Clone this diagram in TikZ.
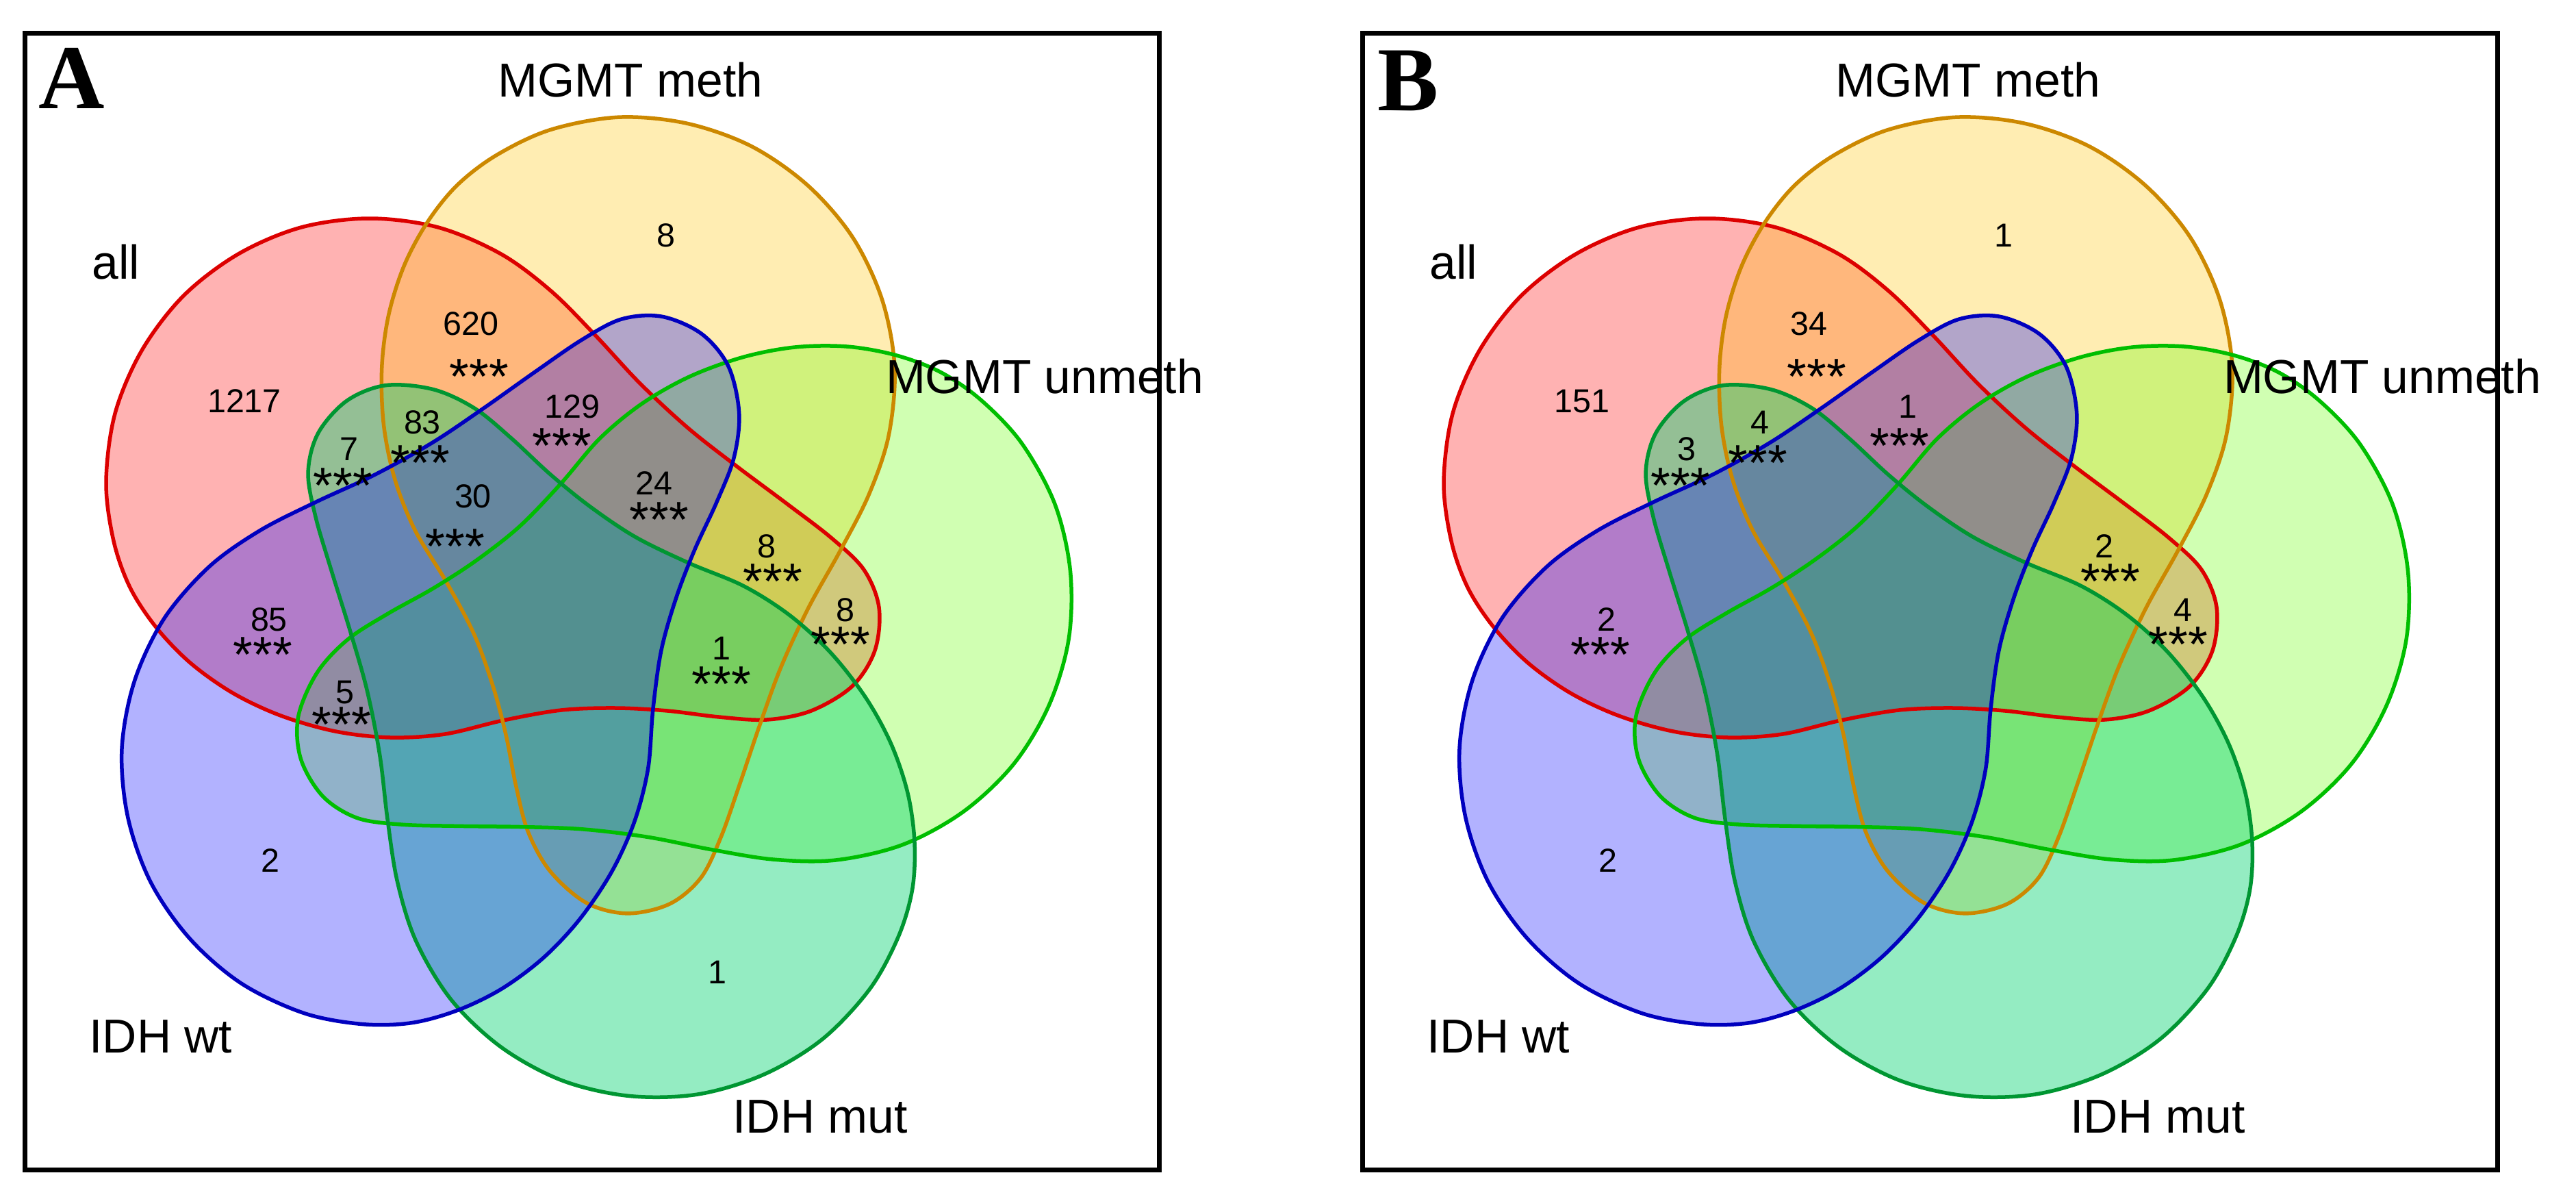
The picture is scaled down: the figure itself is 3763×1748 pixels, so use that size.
\documentclass[tikz,border=0pt]{standalone}
\usepackage{fontspec}
\setmainfont{Liberation Sans}
\newfontfamily\letterfont{Liberation Serif}
\definecolor{fred}{RGB}{255,0,0}
\definecolor{fgold}{RGB}{255,195,0}
\definecolor{flg}{RGB}{100,255,0}
\definecolor{fdg}{RGB}{0,210,110}
\definecolor{fblue}{RGB}{0,0,255}
\definecolor{lred}{RGB}{220,0,0}
\definecolor{lgold}{RGB}{204,136,0}
\definecolor{llg}{RGB}{0,190,0}
\definecolor{ldg}{RGB}{0,150,50}
\definecolor{lblue}{RGB}{0,0,190}
\newcommand\vennShape[2]{\path[#1, rotate around={#2:(833,893)}] plot[smooth cycle,tension=0.55] coordinates {(540,319) (640,332) (732,371) (805,425) (870,490) (935,560) (1005,625) (1075,680) (1150,736) (1215,786) (1262,832) (1284,887) (1278,950) (1245,1002) (1185,1038) (1120,1051) (1050,1047) (975,1038) (900,1034) (820,1037) (735,1052) (650,1072) (570,1077) (490,1068) (410,1045) (340,1012) (278,968) (228,916) (190,858) (166,790) (155,704) (168,604) (207,512) (268,432) (348,371) (440,332)};}
\newcommand\vennPanel{%
  \vennShape{fill=fred, fill opacity=0.3}{0}
  \vennShape{fill=fgold, fill opacity=0.3}{-72}
  \vennShape{fill=flg, fill opacity=0.3}{-144}
  \vennShape{fill=fdg, fill opacity=0.42}{-216}
  \vennShape{fill=fblue, fill opacity=0.3}{-288}
  \vennShape{draw=lred, setline}{0}
  \vennShape{draw=lgold, setline}{-72}
  \vennShape{draw=llg, setline}{-144}
  \vennShape{draw=ldg, setline}{-216}
  \vennShape{draw=lblue, setline}{-288}
}
\begin{document}
\begin{tikzpicture}[x=0.1mm,y=-0.1mm,
  setline/.style={line width=0.55mm},
  frame/.style={draw=black, line width=0.7mm},
  lbl/.style={font=\fontsize{19.8}{24}\selectfont, inner sep=0pt, anchor=base},
  num/.style={font=\fontsize{13.8}{16}\selectfont, inner sep=0pt, anchor=base},
  ast/.style={font=\fontsize{21}{24}\selectfont, inner sep=0pt, anchor=base},
  let/.style={font=\letterfont\bfseries\fontsize{38}{40}\selectfont, inner sep=0pt, anchor=base}]
\useasboundingbox (0,0) rectangle (3763,1748);
% ---------- Panel A ----------
\vennPanel
\draw[frame] (36,49) rectangle (1693,1708);
\node[let] (aL) at (105,159) {A};
\node[lbl] (aMeth) at (921,142) {MGMT meth};
\node[lbl] (aAll) at (169.5,407) {all};
\node[lbl] (aUnmeth) at (1526,574) {MGMT unmeth};
\node[lbl] (aWt) at (235,1537) {IDH wt};
\node[lbl] (aMut) at (1198,1654) {IDH mut};
\node[num] (a620) at (688,489) {620};
\node[num] (a8o) at (973,360) {8};
\node[num] (a1217) at (357,602) {1217};
\node[num] (a83) at (617,633) {83};
\node[num] (a7) at (510,672) {7};
\node[num] (a129) at (836,610) {129};
\node[num] (a30) at (691,741) {30};
\node[num] (a24) at (955,722) {24};
\node[num] (a8t) at (1120,814) {8};
\node[num] (a8p) at (1235,907) {8};
\node[num] (a1c) at (1054,963) {1};
\node[num] (a85) at (393,921) {85};
\node[num] (a5) at (504,1027) {5};
\node[num] (a2b) at (395,1273) {2};
\node[num] (a1m) at (1048,1436) {1};
\node[ast] (s620) at (700,575) {***};
\node[ast] (s83) at (614,701) {***};
\node[ast] (s7) at (501,734) {***};
\node[ast] (s129) at (821,676) {***};
\node[ast] (s30) at (665,823) {***};
\node[ast] (s24) at (963,784) {***};
\node[ast] (s8t) at (1129,874) {***};
\node[ast] (s8p) at (1228,966) {***};
\node[ast] (s1c) at (1054,1024) {***};
\node[ast] (s85) at (384,981) {***};
\node[ast] (s5) at (499,1083) {***};
% ---------- Panel B ----------
\begin{scope}[shift={(1954,0)}]
\vennPanel
\draw[frame] (36,49) rectangle (1694,1708);
\node[let] (bL) at (103,162) {B};
\node[lbl] (bMeth) at (921,142) {MGMT meth};
\node[lbl] (bAll) at (169.5,407) {all};
\node[lbl] (bUnmeth) at (1526,574) {MGMT unmeth};
\node[lbl] (bWt) at (235,1537) {IDH wt};
\node[lbl] (bMut) at (1198,1654) {IDH mut};
\node[num] (b34) at (688,489) {34};
\node[num] (b1o) at (973,360) {1};
\node[num] (b151) at (357,602) {151};
\node[num] (b4) at (617,633) {4};
\node[num] (b3) at (510,672) {3};
\node[num] (b1) at (833,610) {1};
\node[num] (b2t) at (1120,814) {2};
\node[num] (b4p) at (1235,907) {4};
\node[num] (b2) at (393,921) {2};
\node[num] (b2b) at (395,1273) {2};
\node[ast] (t34) at (700,575) {***};
\node[ast] (t4) at (614,701) {***};
\node[ast] (t3) at (501,734) {***};
\node[ast] (t1) at (821,676) {***};
\node[ast] (t2t) at (1129,874) {***};
\node[ast] (t4p) at (1228,966) {***};
\node[ast] (t2) at (384,981) {***};
\end{scope}
\end{tikzpicture}
\end{document}
